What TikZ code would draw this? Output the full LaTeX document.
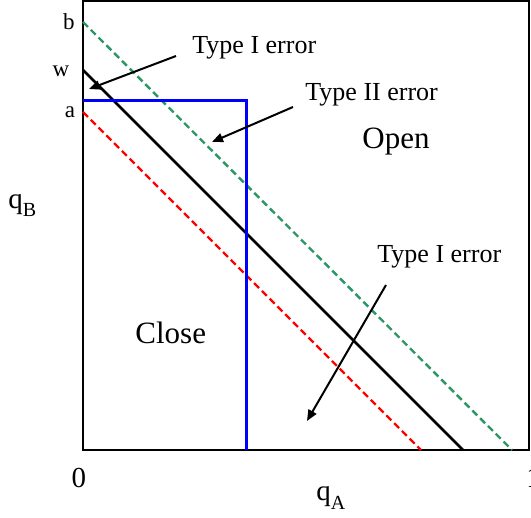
\documentclass[tikz,border=0pt]{standalone}
\usepackage{fontspec}
\setmainfont{Liberation Serif}
\usetikzlibrary{arrows.meta}
\definecolor{dgreen}{RGB}{46,150,100}
\begin{document}
\begin{tikzpicture}[x=0.5pt,y=-0.5pt,
  boxline/.style={line width=0.8pt,black},
  wline/.style={line width=1.3pt,black},
  bline/.style={line width=1.2pt,dgreen,dash pattern=on 3.5pt off 2pt},
  aline/.style={line width=1.2pt,red,dash pattern=on 3.5pt off 2pt},
  blueline/.style={line width=1.5pt,blue},
  lbl/.style={inner sep=0pt,font=\fontsize{13}{15}\selectfont},
  big/.style={inner sep=0pt,font=\fontsize{15.5}{18}\selectfont},
  ax/.style={inner sep=0pt,font=\fontsize{14.5}{17}\selectfont},
  small/.style={inner sep=0pt,font=\fontsize{11.5}{14}\selectfont},
  arr/.style={line width=1pt,-{Triangle[length=5.5pt,width=4.5pt]}}]
\useasboundingbox (0,0) rectangle (531,518);
% frame
\coordinate (TL) at (83,1);
\coordinate (BR) at (529,450);
\draw[boxline] (TL) rectangle (BR);
% diagonal lines
\coordinate (bL) at (83,22);  \coordinate (bR) at (512,450);
\coordinate (wL) at (83,70);  \coordinate (wR) at (463,450);
\coordinate (aL) at (83,112); \coordinate (aR) at (421,450);
\draw[bline] (bL) -- (bR);
\draw[aline] (aL) -- (aR);
\draw[wline] (wL) -- (wR);
% blue region boundary
\coordinate (qL) at (83,101);
\coordinate (qC) at (246,101);
\coordinate (qD) at (246,450);
\draw[blueline] (qL) -- (qC) -- (qD);
% axis labels
\node[small] (lb) at (69,22) {b};
\node[small] (lw) at (61,71) {w};
\node[small] (la) at (70,112) {a};
\node[ax,anchor=base] (l0) at (79,488) {0};
\node[ax,anchor=base west] (l1) at (526,488) {1};
\node[ax,anchor=base west] (qa) at (316,501) {q\raisebox{-0.3em}{\fontsize{10}{10}\selectfont A}};
\node[ax,anchor=base west] (qb) at (8,209) {q\raisebox{-0.25em}{\fontsize{10}{10}\selectfont B}};
% region labels
\node[big,anchor=base west] (open) at (362,149) {Open};
\node[big,anchor=base west] (close) at (135,344) {Close};
% error labels
\node[lbl,anchor=base west] (t1a) at (192,54) {Type I error};
\node[lbl,anchor=base west] (t2) at (305,101) {Type II error};
\node[lbl,anchor=base west] (t1b) at (377,263) {Type I error};
\coordinate (s1) at (176,56); \coordinate (e1) at (89,89);
\coordinate (s2) at (293,107); \coordinate (e2) at (212,142);
\coordinate (s3) at (386,285); \coordinate (e3) at (307,421);
\draw[arr] (s1) -- (e1);
\draw[arr] (s2) -- (e2);
\draw[arr] (s3) -- (e3);
\end{tikzpicture}
\end{document}
